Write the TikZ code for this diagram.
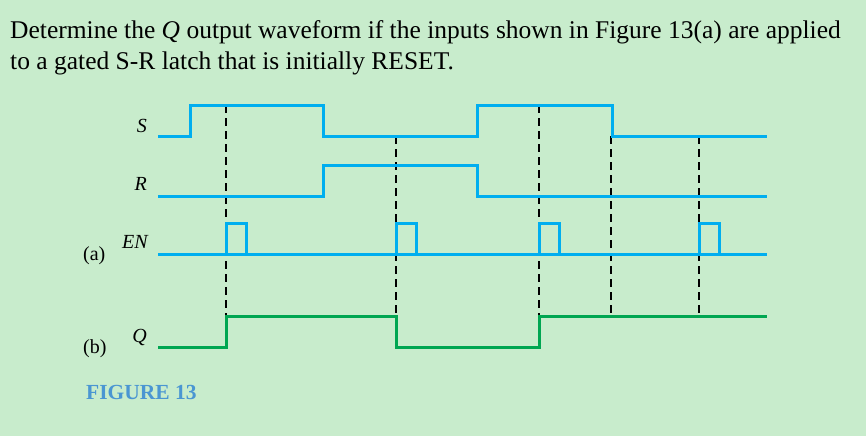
\documentclass[tikz,border=0pt]{standalone}
\usepackage{fontspec}
\setmainfont{Liberation Serif}
\usetikzlibrary{positioning}
\definecolor{paper}{RGB}{200,236,204}
\definecolor{sigblue}{RGB}{0,174,239}
\definecolor{qgreen}{RGB}{0,166,81}
\definecolor{figblue}{RGB}{74,150,210}

\begin{document}
\begin{tikzpicture}[x=1pt, y=-1pt,
  signal/.style={sigblue, line width=3pt, line join=miter},
  output/.style={qgreen, line width=3pt, line join=miter},
  guide/.style={black, line width=1.4pt, dash pattern=on 8pt off 5pt},
  lbl/.style={font=\fontsize{20}{24}\selectfont\itshape, anchor=base east, inner sep=0pt},
  tag/.style={font=\fontsize{20}{24}\selectfont, anchor=base west, inner sep=0pt}]
  \fill[paper] (0,0) rectangle (866,436);
  \useasboundingbox (0,0) rectangle (866,436);
  % Problem statement
  \node[anchor=base west, inner sep=0pt, font=\fontsize{25.5}{31}\selectfont] (line1) at (10,38)
    {Determine the \textit{Q} output waveform if the inputs shown in Figure 13(a) are applied};
  \node[anchor=base west, inner sep=0pt, font=\fontsize{25.5}{31}\selectfont] (line2) at (10,69)
    {to a gated S-R latch that is initially RESET.};
  % Signal names
  \node[lbl] (labS) at (147,132) {S};
  \node[lbl] (labR) at (147,190) {R};
  \node[lbl] (labEN) at (148,248) {EN};
  \node[lbl] (labQ) at (147,342) {Q};
  \node[tag] (tagA) at (83,260) {(a)};
  \node[tag] (tagB) at (83,353) {(b)};
  \node[anchor=base west, inner sep=0pt, figblue, font=\fontsize{21.5}{25}\selectfont\bfseries] (caption) at (86,399) {FIGURE 13};
  % Guide lines at the enable pulses and edges
  \foreach \x/\top in {226/105, 396/136, 539/105, 611/136, 699/136}
    \draw[guide] (\x,\top) -- (\x,316);
  % Inputs
  \draw[signal] (158,136) -- (190,136) -- (190,105) -- (323,105) -- (323,136) -- (477,136)
    -- (477,105) -- (612,105) -- (612,136) -- (767,136);
  \draw[signal] (158,196) -- (323,196) -- (323,165) -- (477,165) -- (477,196) -- (767,196);
  \draw[signal] (158,254) -- (767,254);
  \foreach \x in {226, 396, 539, 699}
    \draw[signal] (\x,254) -- (\x,223) -- (\x+20,223) -- (\x+20,254);
  % Output
  \draw[output] (158,347) -- (226,347) -- (226,316) -- (396,316) -- (396,347) -- (539,347)
    -- (539,316) -- (767,316);
\end{tikzpicture}
\end{document}
